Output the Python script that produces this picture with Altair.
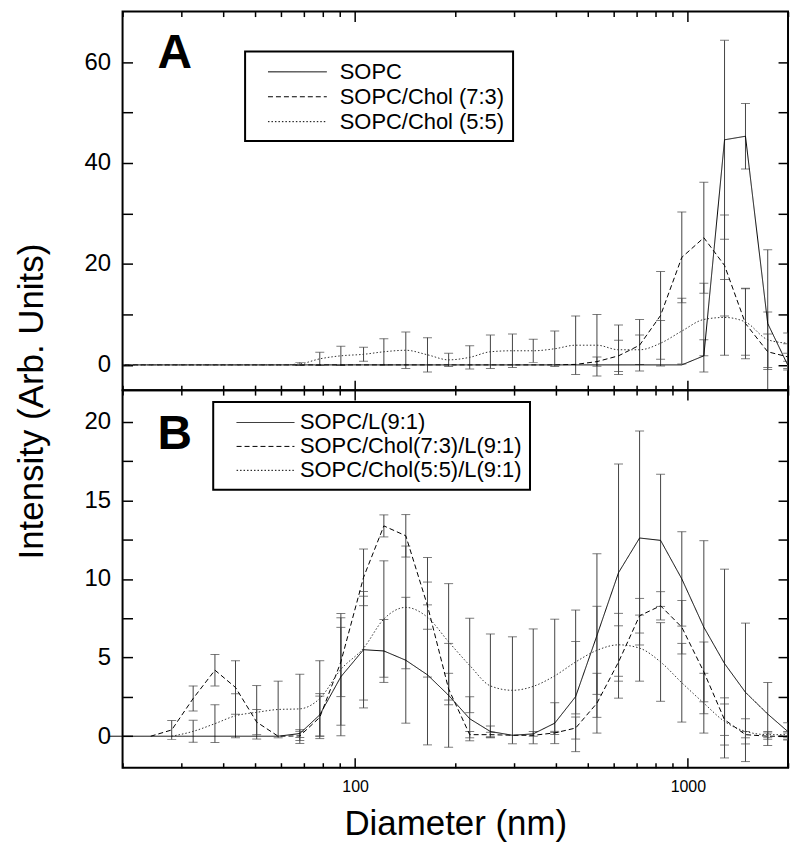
import altair as alt
import pandas as pd

FONT = "Liberation Sans"
W = 668
HA = 380
HB = 379
ERR = "#444444"

# Diameter grid (nm)
X_NM = [18.2, 21.0, 24.3, 28.1, 32.6, 37.9, 43.7, 50.6, 58.7, 68.2, 78.3, 90.6,
        106, 122, 142, 165, 191, 221, 255, 297, 343, 398, 460, 533, 619, 716,
        828, 959, 1117, 1289, 1490, 1738, 1995]

# Panel A
A_NAMES = ["SOPC", "SOPC/Chol (7:3)", "SOPC/Chol (5:5)"]
A_SOPC_Y = [0, 0, 0, 0, 0, 0, 0, 0, 0, 0, 0, 0, 0, 0, 0, 0, 0, 0, 0, 0, 0, 0,
            0, 0, 0, 0, 0, 0, 1.8, 44.6, 45.3, 8.2, 0.0]
A_SOPC_E = [None, None, None, None, None, None, None, None, None, None, None,
            None, None, None, None, None, None, None, None, None, None, None,
            None, None, None, None, None, None, 3.2, 19.7, 6.5, 14.6, 0.7]
A_73_Y = [0, 0, 0, 0, 0, 0, 0, 0, 0, 0, 0, 0, 0, 0, 0, 0, 0, 0, 0, 0, 0, 0,
          0.1, 0.65, 1.8, 3.9, 9.8, 21.3, 25.2, 19.7, 8.2, 2.6, 1.6]
A_73_E = [None, None, None, None, None, None, None, None, None, None, None,
          None, None, None, None, None, None, None, None, None, None, None,
          None, 0.9, 3.1, 5.1, 8.7, 9.0, 11.0, 10.0, 7.0, 3.5, 2.6]
A_55_Y = [0, 0, 0, 0, 0, 0, 0, 0, 0, 0.2, 1.2, 1.8, 2.1, 2.6, 2.9, 2.0, 1.0,
          1.5, 2.6, 2.8, 2.8, 3.2, 3.9, 3.9, 3.0, 3.0, 4.3, 6.7, 9.0, 9.4, 8.5,
          5.0, 4.3]
A_55_E = [None, None, None, None, None, None, None, None, None, 0.3, 1.3, 1.9,
          1.4, 2.6, 3.6, 3.4, 1.3, 2.3, 3.3, 3.3, 2.3, 3.5, 5.8, 6.1, 4.9, 2.9,
          4.5, 6.5, 7.2, 7.5, 6.6, 5.5, 2.0]

# Panel B
B_NAMES = ["SOPC/L(9:1)", "SOPC/Chol(7:3)/L(9:1)", "SOPC/Chol(5:5)/L(9:1)"]
B_L_Y = [0, 0, 0, 0, 0, 0, 0, 0, 0, 0.17, 1.36, 3.78, 5.5, 5.42, 4.83, 3.9,
         2.6, 1.11, 0.3, 0.06, 0.15, 0.83, 2.52, 6.4, 10.4, 12.6, 12.45, 10.0,
         6.93, 4.62, 2.79, 1.41, 0.31]
B_L_E = [None, None, None, None, None, None, None, None, None, 0.25, 1.35,
         3.75, 3.7, 2.0, 4.0, 4.45, 3.3, 1.4, 0.35, None, 0.15, 1.3, 3.5, 5.2,
         6.9, 6.8, 4.2, 3.0, 5.5, 6.0, 4.4, 2.0, 0.55]
B_73_Y = [None, None, 0, 0.4, 2.4, 4.2, 3.1, 0.9, 0.0, 0.02, 1.2, 4.72, 10.1,
          13.37, 12.74, 8.3, 3.0, 0.1, 0.1, 0.06, 0.06, 0.21, 0.52, 2.1, 4.72,
          7.66, 8.29, 6.93, 4.09, 1.05, 0.1, 0.0, 0.0]
B_73_E = [None, None, None, 0.6, 0.8, 1.0, 1.7, 0.8, None, 0.29, 1.35, 2.2,
          1.8, 0.7, 1.35, 1.5, 1.0, 0.2, 0.15, None, None, 0.1, 0.7, 1.9, 2.3,
          1.1, 0.9, 1.7, 1.9, 1.0, 0.2, 0.2, 0.2]
B_55_Y = [None, None, None, 0, 0.31, 0.8, 1.3, 1.52, 1.7, 1.74, 2.4, 4.25,
          5.6, 7.45, 8.19, 7.56, 6.0, 4.5, 3.2, 2.92, 3.17, 3.84, 4.72, 5.46,
          5.81, 5.6, 4.72, 3.4, 2.1, 0.94, 0.31, 0.1, 0.1]
B_55_E = [None, None, None, None, 0.7, 1.2, 1.4, 1.7, 1.8, 2.2, 2.4, 3.55,
          3.3, 3.7, 3.9, 3.8, 3.7, 3.0, 3.3, 3.4, 3.65, 3.6, 3.3, 2.8, 2.0,
          2.1, 2.5, 2.5, 1.9, 1.5, 0.8, 0.2, 0.2]

X_MINOR = [20, 30, 40, 50, 60, 70, 80, 90, 200, 300, 400, 500, 600, 700, 800,
           900, 2000]
X_MAJOR = [100, 1000]
A_YTICKS = [0, 10, 20, 30, 40, 50, 60]
A_YLABELS = [0, 20, 40, 60]
B_YTICKS = [0, 2.5, 5, 7.5, 10, 12.5, 15, 17.5, 20]
B_YLABELS = [0, 5, 10, 15, 20]


def build(names, ys, es):
    rows = []
    for name, yv, ev in zip(names, ys, es):
        assert len(yv) == len(X_NM) and len(ev) == len(X_NM)
        for x, y, e in zip(X_NM, yv, ev):
            if y is None:
                continue
            r = {"x": x, "y": y, "series": name}
            if e is not None:
                r["lo"] = y - e
                r["hi"] = y + e
            rows.append(r)
    return pd.DataFrame(rows)


dfA = build(A_NAMES, [A_SOPC_Y, A_73_Y, A_55_Y], [A_SOPC_E, A_73_E, A_55_E])
dfB = build(B_NAMES, [B_L_Y, B_73_Y, B_55_Y], [B_L_E, B_73_E, B_55_E])


def inward_x(orient, values, size, H):
    return alt.Axis(orient=orient, offset=-H, values=values, tickSize=size,
                    tickWidth=1.5, tickColor="black", labels=False,
                    domain=False, grid=False, title=None)


def inward_y(orient, values):
    return alt.Axis(orient=orient, offset=-W, values=values, tickSize=10,
                    tickWidth=1.5, tickColor="black", labels=False,
                    domain=False, grid=False, title=None)


def panel(df, names, ydom, yticks, ylabels, H, letter, letter_dy, legend,
          xlabels, clip_lines, ytitle):
    xs = alt.Scale(type="log", domain=[20, 2000], nice=False)
    ysc = alt.Scale(domain=ydom, nice=False, zero=False)
    dash = alt.Scale(domain=names, range=[[1, 0], [5, 3], [1.5, 2]])
    if ytitle:
        label_y = alt.Axis(orient="left", values=ylabels, ticks=False,
                           tickSize=0, domain=False, grid=False,
                           labelFont=FONT, labelFontSize=24,
                           labelColor="black", labelPadding=12,
                           labelOverlap=False, format="d",
                           title="Intensity (Arb. Units)", titleFont=FONT,
                           titleFontSize=35, titleFontWeight="normal",
                           titleColor="black", titleX=-91, titleY=391,
                           titleAngle=270, titleAlign="center",
                           titleBaseline="middle")
    else:
        label_y = alt.Axis(orient="left", values=ylabels, ticks=False,
                           tickSize=0, domain=False, grid=False,
                           labelFont=FONT, labelFontSize=24,
                           labelColor="black", labelPadding=12,
                           labelOverlap=False, format="d", title=None)
    base = alt.Chart(df)
    bars = base.transform_filter("isValid(datum.lo)")
    rule = bars.mark_rule(color=ERR, strokeWidth=1, clip=True).encode(
        x=alt.X("x:Q", scale=xs, axis=inward_x("bottom", X_MAJOR, 10, H)),
        y=alt.Y("lo:Q", scale=ysc, axis=inward_y("left", yticks)),
        y2="hi:Q",
    )
    caps = bars.transform_fold(["lo", "hi"], as_=["end", "yc"]).mark_tick(
        orient="horizontal", size=9, thickness=1, color=ERR, clip=True
    ).encode(
        x=alt.X("x:Q", scale=xs, axis=inward_x("top", X_MAJOR, 10, H)),
        y=alt.Y("yc:Q", scale=ysc, axis=None),
    )
    straight = base.transform_filter(
        alt.FieldOneOfPredicate(field="series", oneOf=names[:2])
    ).mark_line(color="black", strokeWidth=1, clip=clip_lines).encode(
        x=alt.X("x:Q", scale=xs, axis=inward_x("top", X_MINOR, 5, H)),
        y=alt.Y("y:Q", scale=ysc, axis=label_y),
        strokeDash=alt.StrokeDash("series:N", scale=dash, legend=legend),
    )
    smooth = base.transform_filter(
        alt.FieldEqualPredicate(field="series", equal=names[2])
    ).mark_line(color="#333333", strokeWidth=1, interpolate="monotone",
                clip=clip_lines).encode(
        x=alt.X("x:Q", scale=xs, axis=inward_x("bottom", X_MINOR, 5, H)),
        y=alt.Y("y:Q", scale=ysc, axis=inward_y("right", yticks)),
        strokeDash=alt.StrokeDash("series:N", scale=dash, legend=legend),
    )
    layers = [rule, caps, straight, smooth]
    if xlabels:
        label_x = alt.Axis(orient="bottom", values=X_MAJOR, ticks=False,
                           tickSize=0, domain=False, grid=False,
                           labelFont=FONT, labelFontSize=16,
                           labelColor="black", labelPadding=11, format="d",
                           title="Diameter (nm)", titleFont=FONT,
                           titleFontSize=35, titleFontWeight="normal",
                           titleColor="black", titlePadding=12)
        carrier = base.mark_point(opacity=0).encode(
            x=alt.X("x:Q", scale=xs, axis=label_x),
            y=alt.Y("y:Q", scale=ysc, axis=None),
        )
        layers.append(carrier)
    return alt.layer(*layers).resolve_axis(
        x="independent", y="independent"
    ).properties(
        width=W, height=H,
        title=alt.TitleParams(letter, anchor="start", frame="group",
                              orient="top", offset=0, dx=35, dy=letter_dy,
                              baseline="alphabetic", fontSize=48,
                              fontWeight="bold", font=FONT, color="black"),
    )


legA = alt.Legend(title=None, orient="none", legendX=123, legendY=40,
                  symbolType="M-2.46,0H2.46", symbolSize=576,
                  symbolStrokeWidth=1, symbolStrokeColor="black",
                  symbolFillColor="transparent", symbolOffset=32,
                  labelOffset=30, labelFont=FONT, labelFontSize=22,
                  labelColor="black", labelLimit=400, padding=8,
                  rowPadding=1, strokeColor="black", fillColor="white")
legB = alt.Legend(title=None, orient="none", legendX=91, legendY=12,
                  symbolType="M-2.42,0H2.42", symbolSize=576,
                  symbolStrokeWidth=1, symbolStrokeColor="black",
                  symbolFillColor="transparent", symbolOffset=32,
                  labelOffset=22, labelFont=FONT, labelFontSize=22,
                  labelColor="black", labelLimit=400, padding=8,
                  rowPadding=0, strokeColor="black", fillColor="white")

pA = panel(dfA, A_NAMES, [-5, 70], A_YTICKS, A_YLABELS, HA, "A", 105, legA,
           False, True, True)
pB = panel(dfB, B_NAMES, [-2, 22], B_YTICKS, B_YLABELS, HB, "B", 108, legB,
           True, False, False)

chart = alt.vconcat(pA, pB, spacing=0, bounds="flush").resolve_scale(
    x="independent", y="independent", strokeDash="independent"
).resolve_legend(strokeDash="independent").properties(
    padding={"left": 6, "top": 0, "right": 0, "bottom": 0},
).configure_view(stroke="black", strokeWidth=2).configure_legend(
    strokeWidth=2
)

chart.save("out.html", embed_options={"renderer": "svg", "actions": False})
